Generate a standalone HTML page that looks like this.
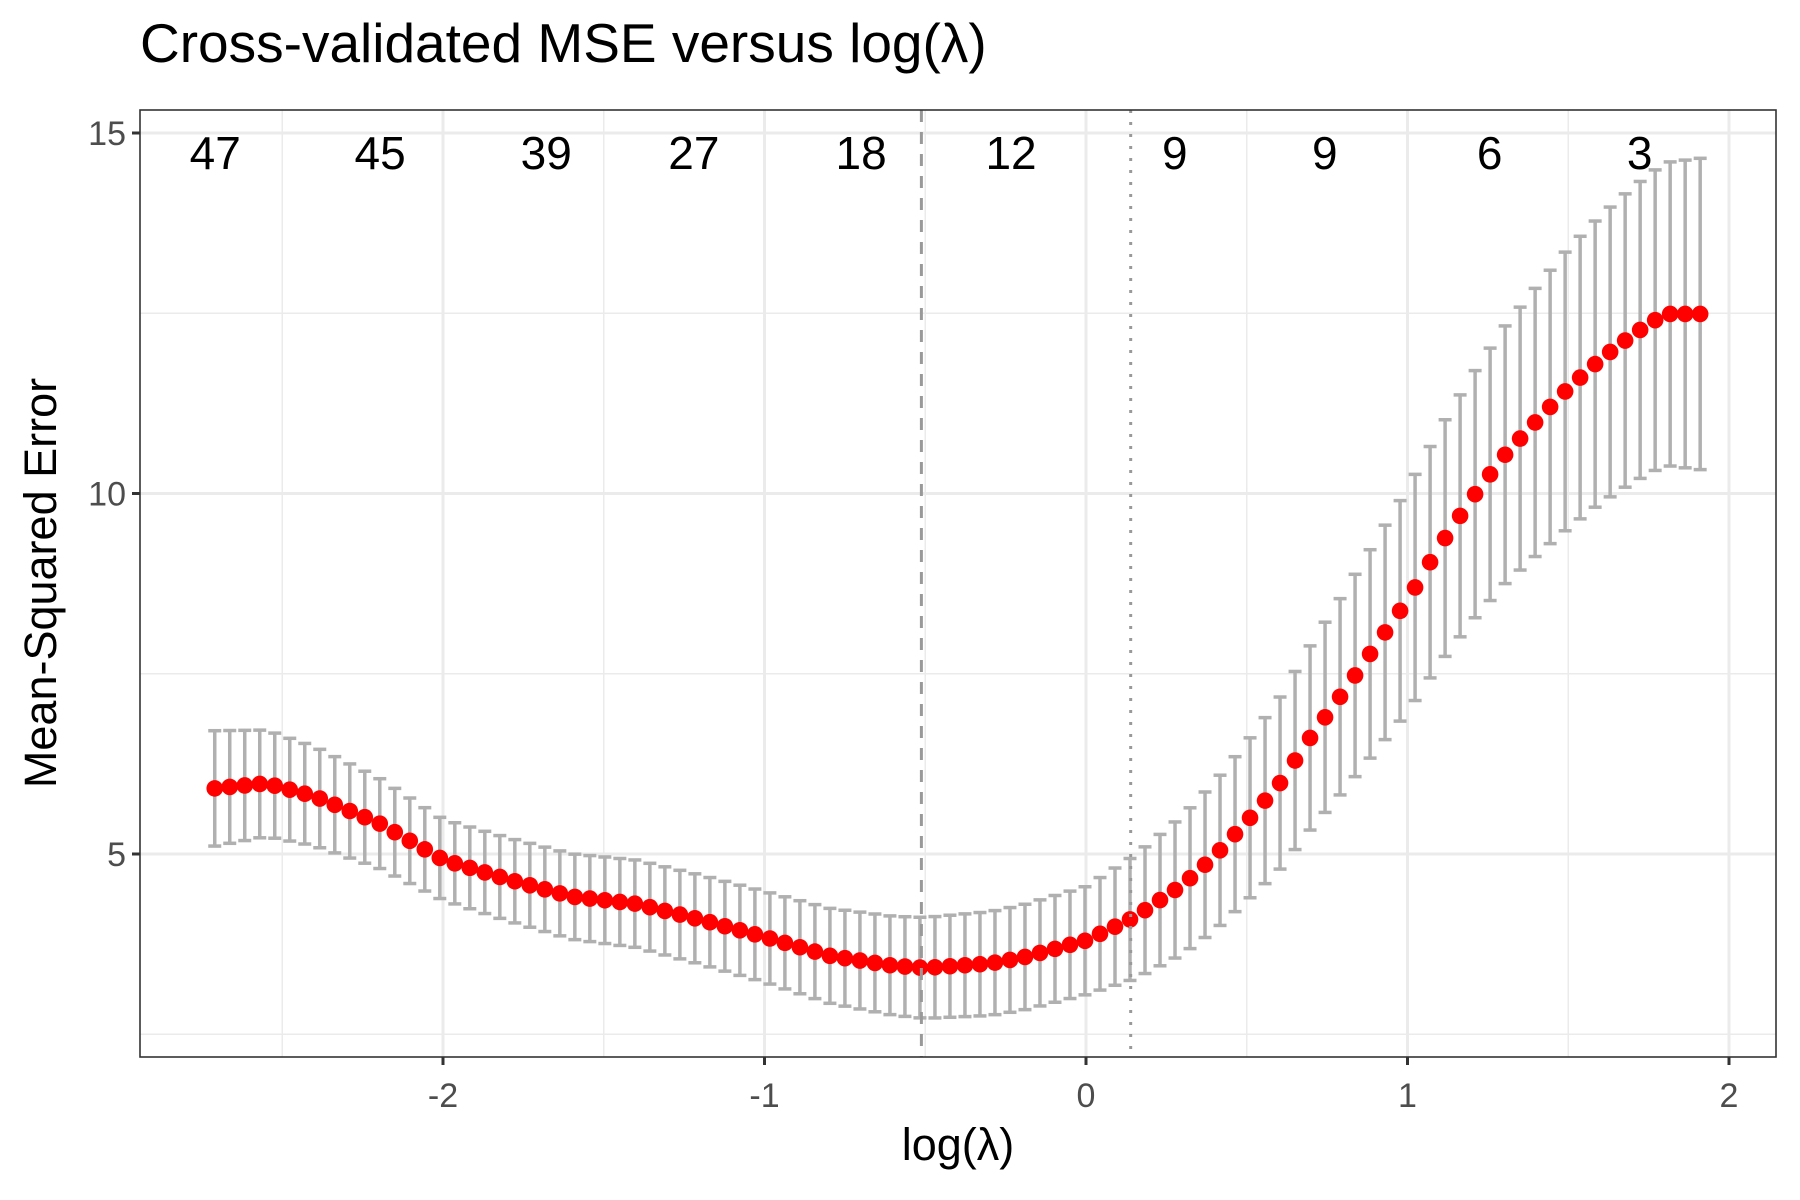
<!DOCTYPE html>
<html><head><meta charset="utf-8"><style>
html,body{margin:0;padding:0;background:#fff;}
svg{display:block;font-family:"Liberation Sans",sans-serif;}
</style></head><body>
<svg id="s" width="1800" height="1200" xmlns="http://www.w3.org/2000/svg">
<rect width="1800" height="1200" fill="#fff"/>
<g id="grid"></g>
<g id="bars"></g>
<g id="pts"></g>
<g id="extra"></g>
<rect x="140" y="110" width="1636" height="947" fill="none" stroke="#333" stroke-width="1.6"/>
<text x="140" y="62" font-size="55" fill="#000">Cross-validated MSE versus log(λ)</text>
<text x="958" y="1160" font-size="45" text-anchor="middle" fill="#000">log(λ)</text>
<text transform="translate(56,583) rotate(-90)" font-size="45" text-anchor="middle" fill="#000">Mean-Squared Error</text>
</svg>
<script>
const NS="http://www.w3.org/2000/svg";
const X=v=>1086+v*321.5, Y=v=>133+(15-v)*72.1;
function el(p,t,a,txt){const e=document.createElementNS(NS,t);for(const k in a)e.setAttribute(k,a[k]);if(txt!==undefined)e.textContent=txt;document.getElementById(p).appendChild(e);return e;}
for(const v of [-2.5,-1.5,-0.5,0.5,1.5])el("grid","line",{x1:X(v),x2:X(v),y1:110,y2:1057,stroke:"#ebebeb","stroke-width":1.5});
for(const v of [2.5,7.5,12.5])el("grid","line",{x1:140,x2:1776,y1:Y(v),y2:Y(v),stroke:"#ebebeb","stroke-width":1.5});
for(const v of [-2,-1,0,1,2]){el("grid","line",{x1:X(v),x2:X(v),y1:110,y2:1057,stroke:"#ebebeb","stroke-width":3});
 el("grid","line",{x1:X(v),x2:X(v),y1:1057,y2:1065,stroke:"#333","stroke-width":3});
 el("grid","text",{x:X(v),y:1107,"font-size":34,"text-anchor":"middle",fill:"#4d4d4d"},String(v));}
for(const v of [5,10,15]){el("grid","line",{x1:140,x2:1776,y1:Y(v),y2:Y(v),stroke:"#ebebeb","stroke-width":3});
 el("grid","line",{x1:132,x2:140,y1:Y(v),y2:Y(v),stroke:"#333","stroke-width":3});
 el("grid","text",{x:126,y:Y(v)+12,"font-size":34,"text-anchor":"end",fill:"#4d4d4d"},String(v));}
const K=[[-2.71,5.91],[-2.55,5.98],[-2.4,5.8],[-2.2,5.43],[-2.0,4.92],[-1.8,4.65],[-1.6,4.41],[-1.4,4.31],[-1.2,4.09],[-1.0,3.85],[-0.8,3.59],[-0.6,3.45],[-0.5,3.42],[-0.3,3.48],[-0.2,3.56],[0,3.8],[0.15,4.12],[0.3,4.57],[0.4,4.97],[0.5,5.45],[0.6,5.96],[0.7,6.63],[0.8,7.24],[0.9,7.88],[1.0,8.52],[1.1,9.27],[1.2,9.93],[1.3,10.52],[1.4,11.0],[1.5,11.46],[1.6,11.86],[1.7,12.2],[1.8,12.49],[1.95,12.49]];
const H=[[-2.71,0.8],[-2.5,0.72],[-2.0,0.56],[-1.5,0.6],[-1.0,0.63],[-0.5,0.7],[0,0.75],[0.5,1.1],[1.0,1.55],[1.5,1.94],[1.95,2.18]];
function interp(T,x){for(let i=0;i<T.length-1;i++){if(x<=T[i+1][0]){const t=(x-T[i][0])/(T[i+1][0]-T[i][0]);return T[i][1]+t*(T[i+1][1]-T[i][1]);}}return T[T.length-1][1];}
for(let i=0;i<100;i++){const x=-2.71+i*0.04667,m=interp(K,x),h=interp(H,x);
 const px=X(x),a=Y(m+h),b=Y(m-h);
 el("bars","line",{x1:px,x2:px,y1:a,y2:b,stroke:"#b0b0b0","stroke-width":3.5});
 el("bars","line",{x1:px-6.5,x2:px+6.5,y1:a,y2:a,stroke:"#b0b0b0","stroke-width":3.5});
 el("bars","line",{x1:px-6.5,x2:px+6.5,y1:b,y2:b,stroke:"#b0b0b0","stroke-width":3.5});
 el("pts","circle",{cx:px,cy:Y(m),r:8.3,fill:"#ff0000"});}
el("extra","line",{x1:X(-0.512),x2:X(-0.512),y1:110,y2:1057,stroke:"#999","stroke-width":3,"stroke-dasharray":"12 10"});
el("extra","line",{x1:X(0.139),x2:X(0.139),y1:110,y2:1057,stroke:"#999","stroke-width":3,"stroke-dasharray":"3 9"});
const labs=[[190,"47"],[333,"45"],[477,"39"],[605,"27"],[750,"18"],[880,"12"],[1022,"9"],[1152,"9"],[1295,"6"],[1425,"3"]];
for(const [dx,t] of labs){const v=(dx-945)/278.75;el("extra","text",{x:X(v),y:169,"font-size":46,"text-anchor":"middle",fill:"#000"},t);}
</script>
</body></html>
